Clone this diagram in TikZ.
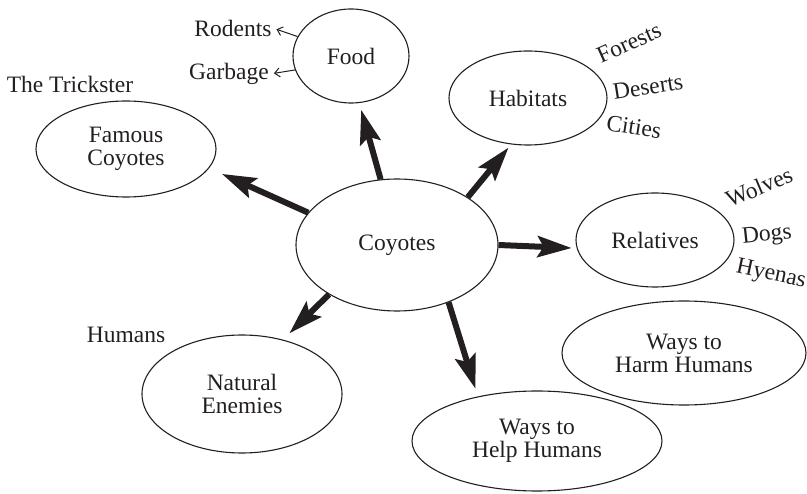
\documentclass[tikz,border=0pt]{standalone}
\usepackage{fontspec}
\setmainfont{Liberation Serif}
\usetikzlibrary{shapes.geometric,arrows.meta}
\definecolor{ink}{HTML}{231F20}
\tikzset{
    oval/.style={ellipse,draw=ink,line width=1.1pt,inner sep=0,align=center,text=ink},
    word/.style={text=ink,inner sep=1pt},
    spoke/.style={draw=ink,line width=6pt,-{Stealth[length=34pt,width=21pt,inset=6pt]}},
    twig/.style={draw=ink,line width=1pt,shorten >=4pt,-{Straight Barb[length=5pt,width=9pt]}}
}

\begin{document}
\begin{tikzpicture}[x=1pt,y=-1pt,font=\fontsize{23.5}{23}\selectfont]
    \useasboundingbox (0,0) rectangle (807,494);
    \node[oval,minimum width=202pt,minimum height=132pt] (coy) at (397,245) {Coyotes};
    \node[oval,minimum width=116pt,minimum height=94pt] (food) at (351,56) {Food};
    \node[oval,minimum width=180pt,minimum height=96pt] (fam) at (126,149) {Famous\\Coyotes};
    \node[oval,minimum width=158pt,minimum height=94pt] (hab) at (528,98) {Habitats};
    \node[oval,minimum width=158pt,minimum height=94pt] (rel) at (655,240) {Relatives};
    \node[oval,minimum width=200pt,minimum height=118pt] (nat) at (242,394) {Natural\\Enemies};
    \node[oval,minimum width=250pt,minimum height=100pt] (help) at (537,441) {Ways to\\Help Humans};
    \node[oval,minimum width=244pt,minimum height=104pt] (harm) at (684,353) {Ways to\\Harm Humans};

    \node[word] (rod) at (233,28) {Rodents};
    \node[word] (garb) at (229,74) {Garbage};
    \node[word] (trick) at (70,84) {The Trickster};
    \node[word] (hum) at (126,335) {Humans};
    \node[word,rotate=24] (forest) at (629,43) {Forests};
    \node[word,rotate=9] (desert) at (648,87) {Deserts};
    \node[word,rotate=-9] (city) at (634,127) {Cities};
    \node[word,rotate=23] (wolf) at (759,187) {Wolves};
    \node[word,rotate=6] (dog) at (767,236) {Dogs};
    \node[word,rotate=-12] (hyena) at (771,275) {Hyenas};

    \draw[spoke,shorten >=14pt] (coy.160) -- (fam.-13);
    \draw[spoke,shorten >=7pt] (coy.104) -- (food.-80);
    \draw[spoke,shorten >=4pt] (coy.34) -- (hab.250);
    \draw[spoke,shorten >=5pt] (coy.0) -- (rel.186);
    \draw[spoke,shorten >=9pt] (coy.216) -- (nat.53);
    \draw[spoke,shorten >=8pt] (coy.312) -- (help.143);

    \draw[twig] (food.160) -- (rod.east);
    \draw[twig] (food.194) -- (garb.east);
\end{tikzpicture}
\end{document}
